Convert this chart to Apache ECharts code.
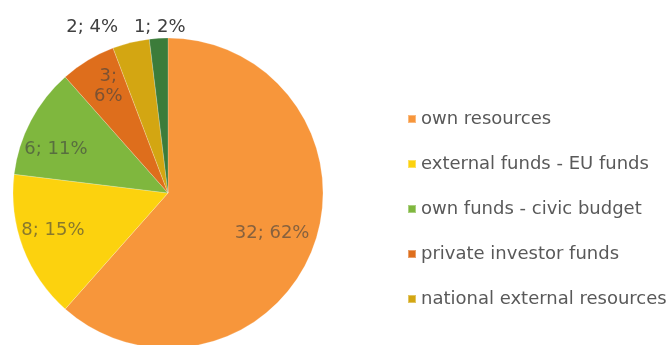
<!DOCTYPE html>
<html>
<head>
<meta charset="utf-8">
<style>
  html, body { margin: 0; padding: 0; background: #ffffff; }
  #chart { width: 666px; height: 345px; }
</style>
<script src="https://cdn.jsdelivr.net/npm/echarts@6/dist/echarts.min.js"></script>
</head>
<body>
<div id="chart"></div>
<script>
// Funding sources of the projects (number of projects per source)
const categories = [
  'own resources',
  'external funds - EU funds',
  'own funds - civic budget',
  'private investor funds',
  'national external resources',
  'other sources'
];
const projectCounts = [32, 8, 6, 3, 2, 1];
const sliceColors = ['#F7963B', '#FCD20E', '#7FB73E', '#DE6E1C', '#D3A612', '#3C7C3A'];
// Only the first five sources appear in the legend
const legendNames = categories.slice(0, 5);

const FONT = 'DejaVu Sans';
const R = 155;
const CENTER = [168, 193];

// Slices 0-3 carry their labels inside; the two narrow ones get them outside
const INSIDE_COUNT = 4;
// small nudges of the inside labels, by slice index
const innerNudge = { 0: [-11, -3], 1: [0, -6], 2: [-3, 14], 3: [4, -1] };

const chart = echarts.init(document.getElementById('chart'), null, { renderer: 'canvas' });

const pieData = categories.map((name, i) => ({
  name: name,
  value: projectCounts[i],
  itemStyle: { color: sliceColors[i] },
  label: { show: i >= INSIDE_COUNT }
}));

const labelData = categories.map((name, i) => ({
  name: name,
  value: projectCounts[i],
  label: { show: i < INSIDE_COUNT }
}));

chart.setOption({
  animation: false,
  backgroundColor: '#ffffff',
  legend: {
    data: legendNames,
    orient: 'vertical',
    left: 402,
    top: 105,
    itemWidth: 8,
    itemHeight: 8,
    itemGap: 27,
    icon: 'rect',
    selectedMode: false,
    textStyle: { fontFamily: FONT, fontSize: 18, color: '#595959' }
  },
  series: [
    {
      // the pie itself
      type: 'pie',
      center: CENTER,
      radius: R,
      startAngle: 90,
      clockwise: true,
      percentPrecision: 0,
      avoidLabelOverlap: false,
      silent: true,
      itemStyle: { borderColor: 'rgba(255,255,255,0.35)', borderWidth: 0.6 },
      label: {
        position: 'outside',
        formatter: '{c}; {d}%',
        fontFamily: FONT,
        fontSize: 18,
        color: '#404040'
      },
      labelLine: { show: false, length: 16, length2: 4 },
      labelLayout: function (p) {
        if (p.dataIndex === 5) { return { dx: 37, dy: 5 }; }
      },
      emphasis: { disabled: true },
      data: pieData
    },
    {
      // transparent ring that places the inner labels at ~3/4 of the radius
      type: 'pie',
      center: CENTER,
      radius: [R * 0.6, R * 0.95],
      startAngle: 90,
      clockwise: true,
      percentPrecision: 0,
      silent: true,
      itemStyle: { color: 'rgba(0,0,0,0)' },
      label: {
        position: 'inside',
        formatter: function (p) {
          return p.dataIndex === 3 ? p.value + ';\n' + p.percent + '%' : p.value + '; ' + p.percent + '%';
        },
        fontFamily: FONT,
        fontSize: 18,
        lineHeight: 20,
        color: 'rgba(64,64,64,0.62)'
      },
      labelLine: { show: false },
      labelLayout: function (p) {
        const n = innerNudge[p.dataIndex];
        if (n) { return { dx: n[0], dy: n[1] }; }
      },
      emphasis: { disabled: true },
      data: labelData
    }
  ]
});
</script>
</body>
</html>
